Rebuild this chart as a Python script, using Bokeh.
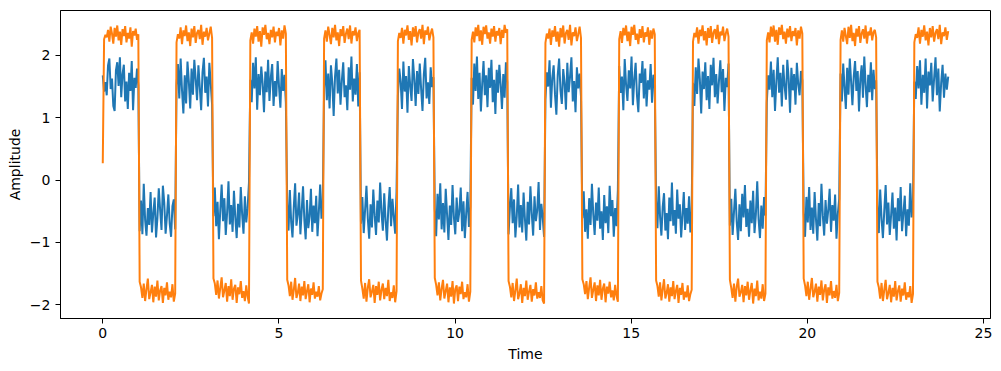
import numpy as np
from bokeh.plotting import figure
from bokeh.models import FixedTicker
from bokeh.embed import file_html
from bokeh.resources import INLINE

# Times at which the square wave switches level
segment_edges = [0.0, 1.047, 2.094, 3.142, 4.189, 5.236, 6.283, 7.330, 8.378,
                 9.425, 10.472, 11.519, 12.566, 13.614, 14.661, 15.708, 16.755,
                 17.802, 18.850, 19.897, 20.944, 21.991, 23.038, 24.0]

x_ticks = [0, 5, 10, 15, 20, 25]
y_ticks = [-2, -1, 0, 1, 2]
y_tick_labels = {-2: "\u22122", -1: "\u22121", 0: "0", 1: "1", 2: "2"}

# Blue series (noisy square wave), one list per level segment
blue_segments = [
    [1.68, 1.42, 1.57, 1.36, 1.84, 1.95, 1.46, 1.63, 1.19, 1.11, 1.76, 1.89, 1.51, 1.97, 1.33, 1.70, 1.85, 1.26, 1.58, 1.14, 1.72, 1.43, 1.91, 1.12, 1.64, 1.48, 1.79, 1.52],
    [-0.82, -0.33, -0.87, -0.06, -0.64, -0.89, -0.45, -0.72, -0.19, -0.84, -0.53, -0.28, -0.92, -0.61, -0.13, -0.48, -0.80, -0.09, -0.36, -0.86, -0.57, -0.23, -0.70, -0.91, -0.42, -0.31, -0.79],
    [1.52, 1.86, 1.31, 1.95, 1.44, 1.07, 1.68, 1.23, 1.90, 1.58, 1.15, 1.79, 1.37, 1.93, 1.62, 1.28, 1.84, 1.49, 1.12, 1.73, 1.96, 1.40, 1.66, 1.18, 1.88, 1.55, 1.21],
    [-0.58, -0.12, -0.74, -0.35, -0.95, -0.48, -0.07, -0.66, -0.29, -0.88, -0.52, -0.02, -0.71, -0.40, -0.83, -0.17, -0.60, -0.93, -0.38, -0.76, -0.11, -0.55, -0.86, -0.26, -0.68, -0.45, -0.04],
    [1.61, 1.25, 1.88, 1.47, 1.97, 1.13, 1.70, 1.36, 1.82, 1.55, 1.09, 1.74, 1.41, 1.93, 1.27, 1.65, 1.86, 1.19, 1.59, 1.34, 1.91, 1.50, 1.16, 1.78, 1.43, 1.69, 1.24],
    [-0.38, -0.81, -0.16, -0.67, -0.92, -0.43, -0.05, -0.73, -0.55, -0.20, -0.87, -0.49, -0.10, -0.64, -0.95, -0.32, -0.77, -0.58, -0.14, -0.83, -0.41, -0.69, -0.25, -0.90, -0.51, -0.07, -0.62, -0.36],
    [1.47, 1.92, 1.28, 1.71, 1.15, 1.84, 1.56, 1.03, 1.66, 1.95, 1.39, 1.77, 1.21, 1.60, 1.89, 1.33, 1.52, 1.12, 1.81, 1.45, 1.98, 1.26, 1.63, 1.37, 1.86, 1.18, 1.73],
    [-0.70, -0.27, -0.85, -0.48, -0.09, -0.62, -0.94, -0.39, -0.76, -0.15, -0.57, -0.88, -0.33, -0.68, -0.04, -0.52, -0.81, -0.21, -0.65, -0.97, -0.44, -0.11, -0.74, -0.30, -0.59, -0.86, -0.18],
    [1.35, 1.79, 1.58, 1.14, 1.90, 1.42, 1.67, 1.08, 1.83, 1.51, 1.27, 1.94, 1.62, 1.19, 1.75, 1.38, 1.87, 1.46, 1.11, 1.70, 1.96, 1.31, 1.57, 1.22, 1.81, 1.49, 1.65],
    [-0.46, -0.90, -0.22, -0.63, -0.05, -0.79, -0.37, -0.84, -0.14, -0.56, -0.96, -0.41, -0.72, -0.08, -0.60, -0.87, -0.28, -0.67, -0.50, -0.12, -0.82, -0.34, -0.93, -0.53, -0.19, -0.75, -0.43],
    [1.64, 1.21, 1.87, 1.43, 1.98, 1.30, 1.72, 1.10, 1.55, 1.91, 1.36, 1.68, 1.17, 1.80, 1.48, 1.93, 1.25, 1.61, 1.06, 1.77, 1.40, 1.85, 1.53, 1.14, 1.70, 1.32, 1.89, 1.57],
    [-0.87, -0.44, -0.13, -0.69, -0.31, -0.92, -0.58, -0.07, -0.76, -0.40, -0.84, -0.20, -0.63, -0.97, -0.35, -0.71, -0.10, -0.54, -0.89, -0.26, -0.66, -0.48, -0.03, -0.80, -0.38, -0.60, -0.91],
    [1.29, 1.73, 1.50, 1.92, 1.16, 1.64, 1.84, 1.37, 1.05, 1.69, 1.95, 1.44, 1.22, 1.78, 1.56, 1.13, 1.88, 1.41, 1.66, 1.97, 1.26, 1.59, 1.09, 1.81, 1.47, 1.71, 1.34],
    [-0.61, -0.18, -0.83, -0.47, -0.94, -0.29, -0.72, -0.06, -0.55, -0.88, -0.36, -0.65, -0.12, -0.78, -0.50, -0.96, -0.24, -0.69, -0.42, -0.85, -0.09, -0.58, -0.32, -0.91, -0.45, -0.74, -0.16],
    [1.83, 1.40, 1.66, 1.12, 1.94, 1.53, 1.27, 1.76, 1.47, 1.98, 1.20, 1.62, 1.88, 1.35, 1.09, 1.71, 1.56, 1.91, 1.31, 1.79, 1.18, 1.60, 1.45, 1.86, 1.24, 1.69, 1.52],
    [-0.34, -0.77, -0.10, -0.59, -0.89, -0.43, -0.21, -0.81, -0.53, -0.95, -0.28, -0.66, -0.04, -0.73, -0.48, -0.86, -0.15, -0.62, -0.39, -0.92, -0.56, -0.19, -0.80, -0.45, -0.70, -0.26, -0.84, -0.51],
    [1.56, 1.19, 1.81, 1.38, 1.95, 1.62, 1.07, 1.74, 1.46, 1.89, 1.28, 1.67, 1.14, 1.85, 1.52, 1.96, 1.33, 1.70, 1.23, 1.59, 1.92, 1.41, 1.78, 1.11, 1.64, 1.49, 1.87],
    [-0.73, -0.30, -0.88, -0.51, -0.14, -0.67, -0.96, -0.39, -0.82, -0.22, -0.60, -0.08, -0.75, -0.46, -0.91, -0.33, -0.69, -0.17, -0.85, -0.55, -0.02, -0.63, -0.93, -0.41, -0.78, -0.27, -0.57],
    [1.24, 1.68, 1.45, 1.90, 1.33, 1.77, 1.11, 1.58, 1.97, 1.40, 1.72, 1.18, 1.85, 1.51, 1.29, 1.93, 1.63, 1.08, 1.80, 1.44, 1.70, 1.21, 1.88, 1.54, 1.36, 1.75, 1.60],
    [-0.52, -0.91, -0.27, -0.68, -0.11, -0.80, -0.44, -0.86, -0.19, -0.63, -0.97, -0.37, -0.74, -0.06, -0.57, -0.89, -0.32, -0.70, -0.48, -0.14, -0.83, -0.40, -0.65, -0.23, -0.94, -0.54, -0.30],
    [1.71, 1.26, 1.87, 1.49, 1.14, 1.80, 1.37, 1.95, 1.58, 1.20, 1.66, 1.91, 1.43, 1.75, 1.10, 1.62, 1.84, 1.32, 1.98, 1.53, 1.17, 1.69, 1.41, 1.89, 1.28, 1.77, 1.46, 1.60],
    [-0.40, -0.85, -0.15, -0.62, -0.93, -0.49, -0.08, -0.71, -0.36, -0.88, -0.56, -0.20, -0.78, -0.44, -0.97, -0.29, -0.66, -0.11, -0.82, -0.53, -0.25, -0.90, -0.47, -0.73, -0.05, -0.60, -0.35],
    [1.58, 1.30, 1.83, 1.47, 1.92, 1.21, 1.69, 1.40, 1.95, 1.15, 1.74, 1.52, 1.88, 1.26, 1.63, 1.97, 1.36, 1.79, 1.10, 1.56, 1.85, 1.32, 1.71, 1.45, 1.66],
]

# Orange series (scaled, cleaner version), one list per level segment
orange_segments = [
    [0.27, 2.26, 2.33, 2.29, 2.41, 2.22, 2.46, 2.35, 2.19, 2.44, 2.30, 2.48, 2.24, 2.38, 2.17, 2.42, 2.31, 2.47, 2.21, 2.36, 2.27, 2.45, 2.14, 2.39, 2.32, 2.43, 2.25, 2.34],
    [-1.63, -1.72, -1.89, -1.66, -1.94, -1.75, -1.58, -1.91, -1.80, -1.68, -1.96, -1.71, -1.87, -1.61, -1.93, -1.77, -1.70, -1.97, -1.73, -1.85, -1.64, -1.92, -1.79, -1.88, -1.67, -1.95, -1.82],
    [2.21, 2.34, 2.27, 2.45, 2.18, 2.40, 2.31, 2.48, 2.23, 2.37, 2.15, 2.43, 2.29, 2.47, 2.20, 2.36, 2.41, 2.26, 2.49, 2.17, 2.38, 2.30, 2.44, 2.24, 2.35, 2.46, 2.28],
    [-1.58, -1.66, -1.84, -1.61, -1.90, -1.73, -1.56, -1.88, -1.77, -1.65, -1.95, -1.70, -1.86, -1.59, -1.92, -1.74, -1.68, -1.97, -1.72, -1.83, -1.62, -1.89, -1.78, -1.94, -1.69, -1.87, -1.98],
    [2.24, 2.37, 2.19, 2.43, 2.30, 2.47, 2.22, 2.39, 2.14, 2.45, 2.33, 2.49, 2.26, 2.36, 2.18, 2.41, 2.29, 2.46, 2.21, 2.38, 2.31, 2.44, 2.16, 2.40, 2.27, 2.48, 2.35],
    [-1.60, -1.69, -1.86, -1.63, -1.92, -1.76, -1.57, -1.89, -1.81, -1.66, -1.94, -1.71, -1.85, -1.62, -1.91, -1.78, -1.67, -1.96, -1.74, -1.84, -1.64, -1.90, -1.79, -1.87, -1.70, -1.93, -1.82, -1.75],
    [2.27, 2.40, 2.22, 2.46, 2.33, 2.18, 2.44, 2.29, 2.49, 2.24, 2.37, 2.15, 2.42, 2.31, 2.47, 2.20, 2.35, 2.43, 2.26, 2.48, 2.19, 2.39, 2.32, 2.45, 2.23, 2.36, 2.41],
    [-1.61, -1.74, -1.90, -1.65, -1.95, -1.72, -1.59, -1.88, -1.79, -1.68, -1.97, -1.70, -1.84, -1.63, -1.93, -1.76, -1.66, -1.91, -1.73, -1.86, -1.60, -1.94, -1.80, -1.89, -1.69, -1.96, -1.78],
    [2.23, 2.36, 2.28, 2.44, 2.19, 2.41, 2.32, 2.48, 2.25, 2.39, 2.16, 2.45, 2.30, 2.47, 2.21, 2.37, 2.42, 2.27, 2.49, 2.18, 2.40, 2.33, 2.46, 2.24, 2.35, 2.43, 2.29],
    [-1.57, -1.68, -1.85, -1.64, -1.93, -1.74, -1.60, -1.90, -1.78, -1.66, -1.96, -1.72, -1.87, -1.62, -1.98, -1.75, -1.69, -1.94, -1.71, -1.83, -1.63, -1.91, -1.80, -1.88, -1.67, -1.95, -1.79],
    [2.25, 2.38, 2.21, 2.45, 2.31, 2.49, 2.23, 2.40, 2.17, 2.46, 2.34, 2.48, 2.27, 2.37, 2.19, 2.43, 2.30, 2.47, 2.22, 2.39, 2.32, 2.44, 2.18, 2.41, 2.28, 2.49, 2.36, 2.42],
    [-1.62, -1.71, -1.88, -1.65, -1.94, -1.77, -1.58, -1.91, -1.82, -1.67, -1.97, -1.73, -1.86, -1.61, -1.92, -1.79, -1.68, -1.95, -1.75, -1.85, -1.64, -1.90, -1.80, -1.89, -1.70, -1.93, -1.98],
    [2.20, 2.35, 2.27, 2.43, 2.17, 2.40, 2.30, 2.47, 2.22, 2.38, 2.14, 2.44, 2.29, 2.48, 2.19, 2.36, 2.41, 2.25, 2.49, 2.16, 2.37, 2.31, 2.45, 2.23, 2.34, 2.46, 2.28],
    [-1.59, -1.67, -1.83, -1.62, -1.91, -1.72, -1.56, -1.89, -1.76, -1.64, -1.94, -1.69, -1.85, -1.60, -1.92, -1.74, -1.66, -1.96, -1.71, -1.82, -1.63, -1.88, -1.77, -1.93, -1.68, -1.86, -1.95],
    [2.26, 2.39, 2.20, 2.44, 2.32, 2.48, 2.23, 2.38, 2.15, 2.46, 2.33, 2.49, 2.25, 2.35, 2.18, 2.42, 2.28, 2.47, 2.21, 2.37, 2.30, 2.45, 2.17, 2.40, 2.27, 2.43, 2.34],
    [-1.61, -1.70, -1.87, -1.64, -1.93, -1.75, -1.59, -1.90, -1.81, -1.67, -1.95, -1.72, -1.86, -1.62, -1.91, -1.78, -1.68, -1.97, -1.73, -1.84, -1.65, -1.92, -1.79, -1.88, -1.69, -1.94, -1.83, -1.76],
    [2.22, 2.36, 2.29, 2.45, 2.19, 2.41, 2.31, 2.48, 2.24, 2.39, 2.16, 2.44, 2.28, 2.47, 2.20, 2.37, 2.42, 2.26, 2.49, 2.18, 2.38, 2.32, 2.46, 2.23, 2.35, 2.43, 2.30],
    [-1.60, -1.73, -1.89, -1.66, -1.95, -1.71, -1.58, -1.87, -1.80, -1.68, -1.96, -1.70, -1.85, -1.63, -1.92, -1.77, -1.65, -1.98, -1.74, -1.86, -1.61, -1.93, -1.79, -1.90, -1.67, -1.94, -1.82],
    [2.24, 2.37, 2.21, 2.46, 2.30, 2.48, 2.22, 2.41, 2.17, 2.45, 2.33, 2.49, 2.26, 2.38, 2.19, 2.43, 2.29, 2.47, 2.23, 2.39, 2.31, 2.44, 2.16, 2.40, 2.27, 2.46, 2.35],
    [-1.58, -1.69, -1.86, -1.63, -1.92, -1.74, -1.57, -1.88, -1.79, -1.66, -1.95, -1.71, -1.84, -1.61, -1.93, -1.76, -1.67, -1.97, -1.72, -1.85, -1.62, -1.90, -1.78, -1.89, -1.68, -1.94, -1.81],
    [2.25, 2.40, 2.22, 2.44, 2.31, 2.18, 2.46, 2.28, 2.49, 2.23, 2.36, 2.15, 2.43, 2.30, 2.47, 2.20, 2.35, 2.42, 2.27, 2.48, 2.19, 2.38, 2.32, 2.45, 2.24, 2.37, 2.41, 2.29],
    [-1.63, -1.72, -1.90, -1.65, -1.94, -1.76, -1.60, -1.91, -1.81, -1.68, -1.96, -1.73, -1.87, -1.62, -1.93, -1.78, -1.69, -1.95, -1.74, -1.85, -1.64, -1.92, -1.80, -1.88, -1.70, -1.97, -1.83],
    [2.21, 2.34, 2.28, 2.45, 2.19, 2.41, 2.30, 2.48, 2.24, 2.38, 2.16, 2.44, 2.29, 2.47, 2.22, 2.36, 2.42, 2.26, 2.49, 2.18, 2.37, 2.31, 2.45, 2.25, 2.39],
]


def build(segments):
    ts, vs = [], []
    n = len(segments)
    for k, vals in enumerate(segments):
        a, b = segment_edges[k], segment_edges[k + 1]
        t = np.linspace(a, b, len(vals), endpoint=(k == n - 1))
        ts.extend(t.tolist())
        vs.extend(vals)
    return ts, vs


blue_t, blue_y = build(blue_segments)
orange_t, orange_y = build(orange_segments)

FONT = "DejaVu Sans"

p = figure(width=1000, height=365, x_range=(-1.2, 25.2), y_range=(-2.22, 2.72),
           output_backend="svg", toolbar_location=None,
           min_border_left=60, min_border_right=10, min_border_top=10, min_border_bottom=47)

p.line(blue_t, blue_y, line_color="#1f77b4", line_width=2)
p.line(orange_t, orange_y, line_color="#ff7f0e", line_width=2)

p.grid.visible = False
p.outline_line_color = "black"
p.outline_line_width = 1
p.background_fill_color = "white"
p.border_fill_color = "white"

p.xaxis.ticker = FixedTicker(ticks=x_ticks)
p.yaxis.ticker = FixedTicker(ticks=y_ticks)
p.yaxis.major_label_overrides = y_tick_labels

for ax in (p.xaxis, p.yaxis):
    ax.axis_line_color = "black"
    ax.major_tick_in = 0
    ax.major_tick_out = 5
    ax.major_tick_line_color = "black"
    ax.minor_tick_line_color = None
    ax.major_label_text_font = FONT
    ax.major_label_text_font_size = "14px"
    ax.major_label_text_color = "black"
    ax.axis_label_text_font = FONT
    ax.axis_label_text_font_size = "14px"
    ax.axis_label_text_font_style = "normal"
    ax.axis_label_text_color = "black"

p.xaxis.major_label_standoff = 4
p.xaxis.axis_label_standoff = 5
p.yaxis.major_label_standoff = 5
p.yaxis.axis_label_standoff = 4

p.xaxis.axis_label = "Time"
p.yaxis.axis_label = "Amplitude"

open("out.html", "w").write(file_html(p, INLINE))
